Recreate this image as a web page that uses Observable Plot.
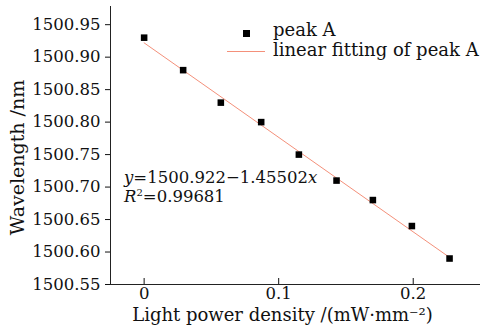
<!DOCTYPE html>
<html><head><meta charset="utf-8">
<script src="https://cdn.jsdelivr.net/npm/d3@7"></script>
<script src="https://cdn.jsdelivr.net/npm/@observablehq/plot@0.6"></script>
<style>
body{margin:0;background:#fff}
#wrap{position:relative;width:480px;height:334px;font-family:"DejaVu Serif",serif;color:#111}
.ov{position:absolute;white-space:nowrap;line-height:1}
</style>
</head><body><div id="wrap"></div>
<script>
// Data
const powerDensity = [0, 0.029, 0.057, 0.087, 0.115, 0.143, 0.170, 0.199, 0.227];
const wavelength = [1500.93, 1500.88, 1500.83, 1500.80, 1500.75, 1500.71, 1500.68, 1500.64, 1500.59];
const fitIntercept = 1500.922;
const fitSlope = -1.45502;
const fitRange = [0, 0.227];
const xDomain = [-0.025, 0.25];
const yDomain = [1500.55, 1500.978];
const xTicks = [0, 0.1, 0.2];
const xTickLabels = ["0", "0.1", "0.2"];
const yTicks = [1500.55, 1500.60, 1500.65, 1500.70, 1500.75, 1500.80, 1500.85, 1500.90, 1500.95];
const yTickLabels = ["1500.55","1500.60","1500.65","1500.70","1500.75","1500.80","1500.85","1500.90","1500.95"];
const legendLabels = ["peak A", "linear fitting of peak A"];
const xTitle = "Light power density /(mW\u00b7mm\u207b\u00b2)";
const yTitle = "Wavelength /nm";

const points = powerDensity.map((x, i) => ({x, y: wavelength[i]}));
const fitLine = fitRange.map(x => ({x, y: fitIntercept + fitSlope * x}));
const fitColor = "#f4907a";

const chart = Plot.plot({
  width: 480, height: 334,
  marginLeft: 110, marginRight: 0, marginTop: 6, marginBottom: 50,
  style: {fontFamily: "DejaVu Serif, serif", fontSize: "16px", color: "#111", background: "#fff"},
  x: {domain: xDomain, label: null},
  y: {domain: yDomain, label: null},
  marks: [
    Plot.ruleX([xDomain[0]], {stroke: "#222", strokeWidth: 1}),
    Plot.ruleY([yDomain[0]], {stroke: "#222", strokeWidth: 1}),
    Plot.axisY({ticks: yTicks, tickFormat: (d, i) => yTickLabels[i], tickSize: 5, tickPadding: 5, fontSize: 16.5, label: null}),
    Plot.axisX({ticks: xTicks, tickSize: -6, text: null, label: null}),
    Plot.axisX({ticks: xTicks, tickFormat: (d, i) => xTickLabels[i], tickSize: 0, tickPadding: 3, fontSize: 16.5, label: null}),
    Plot.line(fitLine, {x: "x", y: "y", stroke: fitColor, strokeWidth: 1}),
    Plot.dot(points, {x: "x", y: "y", symbol: "square", r: 3.7, fill: "#000", stroke: "none"}),
    Plot.text([xTitle], {frameAnchor: "bottom", dx: -13, dy: 36, fontSize: 18, text: d => d}),
    Plot.text([yTitle], {frameAnchor: "left", textAnchor: "middle", dx: -93, dy: 12, rotate: -90, fontSize: 19, text: d => d})
  ]
});
const wrap = document.getElementById("wrap");
wrap.appendChild(chart);

function ov(html, css) {
  const d = document.createElement("div");
  d.className = "ov";
  d.innerHTML = html;
  d.style.cssText += css;
  wrap.appendChild(d);
}
// legend
ov("", `left:243px;top:30px;width:6.5px;height:6.5px;background:#000;`);
ov("", `left:227px;top:51px;width:38px;height:1px;background:${fitColor};`);
ov(legendLabels[0], `left:273px;top:21px;font-size:18px;`);
ov(legendLabels[1], `left:273px;top:41px;font-size:18px;`);
// annotation
ov(`<i>y</i>=${fitIntercept}\u2212${Math.abs(fitSlope)}<i>x</i>`, `left:124px;top:170px;font-size:16.5px;`);
ov(`<i>R</i><sup style="font-size:10px;vertical-align:6px">2</sup>=0.99681`, `left:124px;top:188px;font-size:16.5px;`);
</script>
</body></html>
